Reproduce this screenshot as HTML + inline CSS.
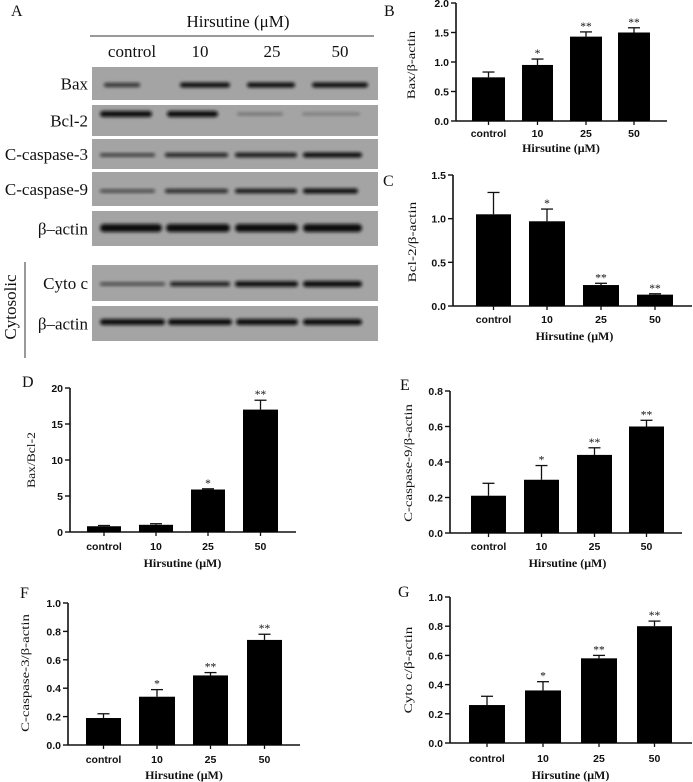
<!DOCTYPE html>
<html><head><meta charset="utf-8"><style>
html,body{margin:0;padding:0;background:#fff;}
svg{display:block;}
.tk{font-family:"Liberation Sans",sans-serif;font-weight:bold;font-size:10.5px;fill:#111;}
.ttl{font-family:"Liberation Serif",serif;font-weight:bold;font-size:12px;fill:#111;}
.yl{font-family:"Liberation Serif",serif;font-size:11.5px;fill:#111;}
.pl{font-family:"Liberation Serif",serif;font-size:16px;fill:#111;}
.bl{font-family:"Liberation Serif",serif;font-size:17px;fill:#111;}
</style></head><body>
<svg id="fig" width="693" height="782" viewBox="0 0 693 782">
<defs><filter id="blur" x="-10%" y="-100%" width="120%" height="300%"><feGaussianBlur stdDeviation="1.6"/></filter></defs>
<g id="blots"></g>
<g id="charts"></g>
</svg>
<script>
const NS='http://www.w3.org/2000/svg';
function mk(tag,attrs,parent,text){const e=document.createElementNS(NS,tag);for(const k in attrs)e.setAttribute(k,attrs[k]);if(text!==undefined)e.textContent=text;parent.appendChild(e);return e;}

const categories=['control','10','25','50'];
const bVals=[0.74,0.95,1.43,1.50], bErr=[0.09,0.10,0.08,0.08], bSig=['','*','**','**'];
const cVals=[1.05,0.97,0.24,0.13], cErr=[0.25,0.14,0.02,0.01], cSig=['','*','**','**'];
const dVals=[0.8,1.0,5.9,17.0], dErr=[0.1,0.15,0.1,1.3], dSig=['','','*','**'];
const eVals=[0.21,0.30,0.44,0.60], eErr=[0.07,0.08,0.04,0.035], eSig=['','*','**','**'];
const fVals=[0.19,0.34,0.49,0.74], fErr=[0.03,0.05,0.02,0.04], fSig=['','*','**','**'];
const gVals=[0.26,0.36,0.58,0.80], gErr=[0.06,0.06,0.02,0.035], gSig=['','*','**','**'];
const bTicks=['0.0','0.5','1.0','1.5','2.0'];
const cTicks=['0.0','0.5','1.0','1.5'];
const dTicks=['0','5','10','15','20'];
const eTicks=['0.0','0.2','0.4','0.6','0.8'];
const fTicks=['0.0','0.2','0.4','0.6','0.8','1.0'];
const gTicks=['0.0','0.2','0.4','0.6','0.8','1.0'];

const panels=[
 {id:'b',letter:'B',lx:384,ly:16,ax:456,xend:667,y0:121,y1:3,ymax:2.0,bars:[[472,505],[522,553],[570,602],[618,650]],vals:bVals,err:bErr,sig:bSig,ticks:bTicks,ylab:'Bax/β-actin',ylx:415,yly:65,laby:137,tity:152},
 {id:'c',letter:'C',lx:383,ly:186,ax:453,xend:692,y0:306,y1:175,ymax:1.5,bars:[[476,511],[529,565],[583,619],[637,673]],vals:cVals,err:cErr,sig:cSig,ticks:cTicks,ylab:'Bcl-2/β-actin',ylx:416,yly:242,laby:323,tity:340},
 {id:'d',letter:'D',lx:22,ly:387,ax:70,xend:296,y0:532,y1:388,ymax:20,bars:[[87,121],[139,173],[191,225],[243,278]],vals:dVals,err:dErr,sig:dSig,ticks:dTicks,ylab:'Bax/Bcl-2',ylx:35,yly:460,laby:550,tity:567},
 {id:'e',letter:'E',lx:400,ly:390,ax:450,xend:682,y0:533,y1:391,ymax:0.8,bars:[[471,506],[524,559],[577,612],[629,664]],vals:eVals,err:eErr,sig:eSig,ticks:eTicks,ylab:'C-caspase-9/β-actin',ylx:412,yly:463,laby:550,tity:567},
 {id:'f',letter:'F',lx:20,ly:598,ax:68,xend:300,y0:745,y1:603,ymax:1.0,bars:[[86,121],[139,175],[193,228],[247,282]],vals:fVals,err:fErr,sig:fSig,ticks:fTicks,ylab:'C-caspase-3/β-actin',ylx:29,yly:673,laby:763,tity:779},
 {id:'g',letter:'G',lx:398,ly:597,ax:450,xend:692,y0:743,y1:597,ymax:1.0,bars:[[469,505],[525,561],[581,617],[637,672]],vals:gVals,err:gErr,sig:gSig,ticks:gTicks,ylab:'Cyto c/β-actin',ylx:412,yly:670,laby:762,tity:779}
];

const charts=document.getElementById('charts');
panels.forEach(p=>{
  const g=mk('g',{},charts);
  
  
  const ys=v=>p.y0-(v/p.ymax)*(p.y0-p.y1);
  const lt=mk('text',{x:p.lx,y:p.ly,class:'pl'},g,p.letter);
  
  
  const ya=mk('line',{x1:p.ax,y1:p.y1,x2:p.ax,y2:p.y0,stroke:'#111','stroke-width':1.6},g);
  
  
  const xa=mk('line',{x1:p.ax,y1:p.y0,x2:p.xend,y2:p.y0,stroke:'#111','stroke-width':1.6},g);
  
  
  p.ticks.forEach((t,i)=>{
    const v=parseFloat(t), y=ys(v);
    mk('line',{x1:p.ax-5,y1:y,x2:p.ax,y2:y,stroke:'#111','stroke-width':1.4},g);
    const tl=mk('text',{x:p.ax-7,y:y+4,'text-anchor':'end',class:'tk'},g,t);
    
    
  });
  p.vals.forEach((v,i)=>{
    const [x0,x1]=p.bars[i], cx=(x0+x1)/2, top=ys(v), et=ys(v+p.err[i]);
    mk('line',{x1:cx,y1:et,x2:cx,y2:top,stroke:'#111','stroke-width':1.3},g);
    mk('line',{x1:cx-6,y1:et,x2:cx+6,y2:et,stroke:'#111','stroke-width':1.3},g);
    const r=mk('rect',{x:x0,y:top,width:x1-x0,height:p.y0-top,fill:'#000'},g);
    
    
    mk('line',{x1:cx,y1:p.y0,x2:cx,y2:p.y0+4,stroke:'#111','stroke-width':1.3},g);
    const cl=mk('text',{x:cx,y:p.laby,'text-anchor':'middle',class:'tk'},g,categories[i]);
    
    
    if(p.sig[i]){
      const s=mk('text',{x:cx,y:et-2,'text-anchor':'middle',class:'yl','font-size':'10px'},g,p.sig[i]);
      
      
    }
  });
  const tt=mk('text',{x:(p.bars[0][0]+p.bars[3][1])/2,y:p.tity,'text-anchor':'middle',class:'ttl'},g,'Hirsutine (μM)');
  
  
  const yl=mk('text',{x:p.ylx,y:p.yly,'text-anchor':'middle',class:'yl',transform:`rotate(-90 ${p.ylx} ${p.yly})`,textLength:(p.ylab.length*6.2),lengthAdjust:'spacingAndGlyphs'},g,p.ylab);
  
  
});

const bl=document.getElementById('blots');
const lanes=[{x:132,t:'control'},{x:200,t:'10'},{x:272,t:'25'},{x:340,t:'50'}];
const strips=[
 {name:'Bax',y0:67,y1:100,bands:[[104,140,4,0.8],[180,230,5,1],[247,295,5,1],[312,368,5,1]],by:85},
 {name:'Bcl-2',y0:105,y1:136,bands:[[100,152,6,1],[167,218,6,1],[237,283,3,0.3],[302,360,3,0.25]],by:114},
 {name:'C-caspase-3',y0:139,y1:169,bands:[[100,155,3,0.8],[165,228,4,0.9],[235,297,4.5,0.95],[303,362,5,1]],by:155},
 {name:'C-caspase-9',y0:172,y1:206,bands:[[100,155,3,0.7],[165,228,4,0.85],[235,297,4.5,0.95],[303,358,5,1]],by:191},
 {name:'β–actin',y0:211,y1:246,bands:[[100,162,8,1],[166,230,8,1],[235,298,8,1],[303,362,8,1]],by:228},
 {name:'Cyto c',y0:265,y1:301,bands:[[100,165,3,0.7],[170,230,4.5,0.9],[235,298,5.5,1],[303,362,6,1]],by:284},
 {name:'β–actin',y0:306,y1:341,bands:[[100,165,6,1],[168,232,6,1],[236,298,6,1],[303,362,6,1]],by:322}
];
const al=mk('text',{x:11,y:16,class:'pl'},bl,'A');


const ht=mk('text',{x:238,y:27,'text-anchor':'middle',class:'bl'},bl,'Hirsutine (μM)');


mk('line',{x1:90,y1:36,x2:374,y2:36,stroke:'#333','stroke-width':1},bl);
lanes.forEach(l=>{
  const t=mk('text',{x:l.x,y:57,'text-anchor':'middle',class:'bl'},bl,l.t);
  
  
});
strips.forEach(s=>{
  const g=mk('g',{},bl);
  
  
  mk('rect',{x:92,y:s.y0,width:286,height:s.y1-s.y0,fill:'#a4a4a4'},g);
  s.bands.forEach(b=>{
    mk('rect',{x:b[0],y:s.by-b[2]/2,width:b[1]-b[0],height:b[2],rx:b[2]/2,fill:'#111','fill-opacity':b[3],filter:'url(#blur)'},g);
  });
  const t=mk('text',{x:88,y:(s.y0+s.y1)/2+6,'text-anchor':'end',class:'bl'},g,s.name);
  
  
});
mk('line',{x1:25,y1:262,x2:25,y2:358,stroke:'#333','stroke-width':1},bl);
const cy=mk('text',{x:16,y:307,'text-anchor':'middle',class:'bl',transform:'rotate(-90 16 307)'},bl,'Cytosolic');


</script>
</body></html>
